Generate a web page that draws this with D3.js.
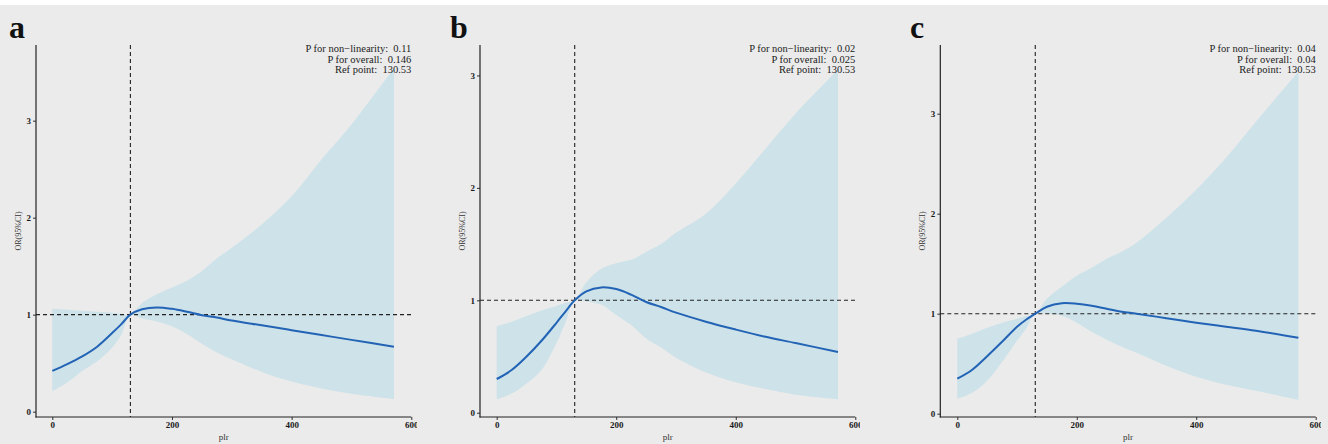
<!DOCTYPE html>
<html>
<head>
<meta charset="utf-8">
<script src="https://cdn.jsdelivr.net/npm/d3@7"></script>
<style>
  body { margin: 0; background: #fff; }
  svg { display: block; }
  .tick text { font-family: "Liberation Serif", serif; font-weight: bold; font-size: 9px; fill: #1a1a1a; }
</style>
</head>
<body>
<div id="chart"></div>
<script>
// plr grid (shared by the three panels)
const plr = [0, 25, 50, 75, 100, 115, 130.53, 150, 175, 200, 225, 250, 275, 300, 350, 400, 450, 500, 571];

// panel a
const estA = [0.42, 0.49, 0.57, 0.67, 0.81, 0.90, 1.0, 1.055, 1.075, 1.06, 1.03, 0.995, 0.97, 0.94, 0.89, 0.84, 0.79, 0.74, 0.67];
const lowA = [0.21, 0.30, 0.42, 0.52, 0.66, 0.79, 1.0, 0.96, 0.93, 0.88, 0.80, 0.70, 0.61, 0.54, 0.41, 0.31, 0.24, 0.185, 0.13];
const upA  = [1.06, 1.05, 1.04, 1.03, 1.02, 1.01, 1.0, 1.12, 1.21, 1.28, 1.35, 1.45, 1.58, 1.69, 1.93, 2.22, 2.60, 2.96, 3.54];

// panel b
const estB = [0.30, 0.38, 0.50, 0.64, 0.80, 0.90, 1.0, 1.08, 1.115, 1.10, 1.05, 0.985, 0.94, 0.89, 0.81, 0.74, 0.675, 0.62, 0.54];
const lowB = [0.12, 0.17, 0.26, 0.38, 0.62, 0.80, 1.0, 0.99, 0.96, 0.87, 0.78, 0.66, 0.58, 0.49, 0.36, 0.27, 0.21, 0.16, 0.12];
const upB  = [0.77, 0.81, 0.86, 0.91, 0.95, 0.975, 1.0, 1.16, 1.28, 1.33, 1.36, 1.43, 1.50, 1.60, 1.77, 2.04, 2.35, 2.66, 3.05];

// panel c
const estC = [0.35, 0.44, 0.575, 0.72, 0.87, 0.94, 1.0, 1.07, 1.105, 1.10, 1.08, 1.05, 1.02, 1.0, 0.955, 0.91, 0.87, 0.83, 0.76];
const lowC = [0.15, 0.21, 0.33, 0.52, 0.73, 0.85, 1.0, 1.0, 0.98, 0.91, 0.82, 0.74, 0.67, 0.61, 0.48, 0.37, 0.29, 0.23, 0.14];
const upC  = [0.75, 0.80, 0.86, 0.91, 0.95, 0.975, 1.0, 1.15, 1.27, 1.38, 1.46, 1.55, 1.62, 1.71, 1.96, 2.24, 2.56, 2.92, 3.42];

const panelLabels = ['a', 'b', 'c'];
const pNonLinear = ['0.11', '0.02', '0.04'];
const pOverall = ['0.146', '0.025', '0.04'];
const refPoint = 130.53;
const xTicks = [0, 200, 400, 600];
const yTicks = [0, 1, 2, 3];

const series = [
  { est: estA, low: lowA, up: upA },
  { est: estB, low: lowB, up: upB },
  { est: estC, low: lowC, up: upC },
];

// layout of each panel (pixels)
const layout = [
  { left: 0,   clip: 417,  axisX: 36,    x0: 52.3,  x1: 411.3,  yDom: [-0.055, 3.78] },
  { left: 443, clip: 860,  axisX: 480,   x0: 496.7, x1: 855.3,  yDom: [-0.038, 3.271] },
  { left: 886, clip: 1321, axisX: 940.3, x0: 957.3, x1: 1315.7, yDom: [-0.033, 3.687] },
];

const width = 1328, height = 444;
const plotTop = 45, plotBottom = 417;

const svg = d3.select('#chart').append('svg')
  .attr('width', width)
  .attr('height', height);

svg.append('rect').attr('width', width).attr('height', height).attr('fill', '#fff');
svg.append('rect').attr('y', 5).attr('width', width).attr('height', height - 5).attr('fill', '#ebebeb');

const serif = '"Liberation Serif", "Times New Roman", serif';

layout.forEach((L, i) => {
  const s = series[i];
  const rows = plr.map((x, j) => ({ x, est: s.est[j], low: s.low[j], up: s.up[j] }));

  svg.append('clipPath').attr('id', 'clip' + i)
    .append('rect').attr('x', L.left).attr('y', 0).attr('width', L.clip - L.left).attr('height', height);

  const g = svg.append('g').attr('clip-path', `url(#clip${i})`);

  const x = d3.scaleLinear().domain([0, 600]).range([L.x0, L.x1]);
  const y = d3.scaleLinear().domain(L.yDom).range([plotBottom, plotTop]);

  // confidence ribbon
  g.append('path')
    .datum(rows)
    .attr('fill', '#cde2e9')
    .attr('d', d3.area().curve(d3.curveCatmullRom)
      .x(d => x(d.x)).y0(d => y(d.low)).y1(d => y(d.up)));

  // reference lines
  g.append('line')
    .attr('x1', L.axisX).attr('x2', L.x1)
    .attr('y1', y(1)).attr('y2', y(1))
    .attr('stroke', '#222').attr('stroke-width', 1.1).attr('stroke-dasharray', '4,3');
  g.append('line')
    .attr('x1', x(refPoint)).attr('x2', x(refPoint))
    .attr('y1', plotTop).attr('y2', plotBottom)
    .attr('stroke', '#222').attr('stroke-width', 1.1).attr('stroke-dasharray', '4,3');

  // fitted curve
  g.append('path')
    .datum(rows)
    .attr('fill', 'none')
    .attr('stroke', '#2263b5')
    .attr('stroke-width', 2)
    .attr('d', d3.line().curve(d3.curveCatmullRom).x(d => x(d.x)).y(d => y(d.est)));

  // axes
  const xAxis = g.append('g')
    .attr('transform', `translate(0,${plotBottom})`)
    .call(d3.axisBottom(x).tickValues(xTicks).tickFormat(d3.format('d')).tickSize(3).tickPadding(2));
  xAxis.select('.domain').remove();
  g.append('line')
    .attr('x1', L.axisX - 0.5).attr('x2', L.x1)
    .attr('y1', plotBottom).attr('y2', plotBottom)
    .attr('stroke', '#222').attr('stroke-width', 1.2);

  const yAxis = g.append('g')
    .attr('transform', `translate(${L.axisX},0)`)
    .call(d3.axisLeft(y).tickValues(yTicks).tickFormat(d3.format('d')).tickSize(3).tickPadding(2));
  yAxis.select('.domain').remove();
  g.append('line')
    .attr('x1', L.axisX).attr('x2', L.axisX)
    .attr('y1', plotTop).attr('y2', plotBottom + 0.5)
    .attr('stroke', '#222').attr('stroke-width', 1.2);
  g.selectAll('.tick line').attr('stroke', '#333');

  // axis titles
  g.append('text')
    .attr('x', (L.axisX + L.x1) / 2).attr('y', 440)
    .attr('text-anchor', 'middle')
    .attr('font-family', serif).attr('font-size', 9).attr('fill', '#333')
    .text('plr');
  g.append('text')
    .attr('transform', `translate(${L.axisX - 15},${(plotTop + plotBottom) / 2}) rotate(-90)`)
    .attr('text-anchor', 'middle')
    .attr('font-family', serif).attr('font-size', 8).attr('fill', '#333')
    .text('OR(95%CI)');

  // annotation
  const notes = [
    'P for non\u2212linearity:  ' + pNonLinear[i],
    'P for overall:  ' + pOverall[i],
    'Ref point:  ' + refPoint.toFixed(2),
  ];
  g.append('g').selectAll('text')
    .data(notes)
    .join('text')
    .attr('x', L.x1)
    .attr('y', (d, k) => 52 + k * 10.6)
    .attr('text-anchor', 'end')
    .attr('font-family', serif).attr('font-size', 10.5).attr('fill', '#222')
    .style('white-space', 'pre')
    .text(d => d);

  // panel letter
  svg.append('text')
    .attr('x', L.left + (i === 0 ? 9 : i === 1 ? 7 : 24)).attr('y', 38)
    .attr('font-family', serif).attr('font-weight', 'bold').attr('font-size', 32).attr('fill', '#111')
    .text(panelLabels[i]);
});
</script>
</body>
</html>
